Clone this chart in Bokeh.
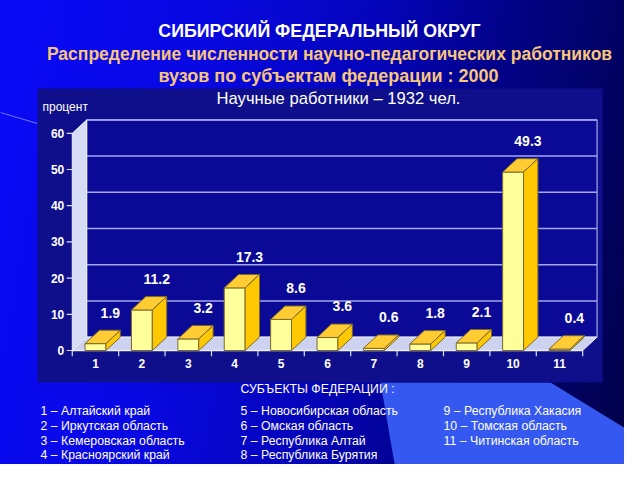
import numpy as np
from bokeh.plotting import figure
from bokeh.models import Range1d
from bokeh.embed import file_html
from bokeh.resources import INLINE
from bokeh.core.properties import value

# ---------------- data ----------------
categories = ["1", "2", "3", "4", "5", "6", "7", "8", "9", "10", "11"]
shares = [1.9, 11.2, 3.2, 17.3, 8.6, 3.6, 0.6, 1.8, 2.1, 49.3, 0.4]
share_labels = ["1.9", "11.2", "3.2", "17.3", "8.6", "3.6", "0.6", "1.8", "2.1", "49.3", "0.4"]
y_ticks = [0, 10, 20, 30, 40, 50, 60]
y_tick_labels = ["0", "10", "20", "30", "40", "50", "60"]
subjects = [
    "1 – Алтайский край",
    "2 – Иркутская область",
    "3 – Кемеровская область",
    "4 – Красноярский край",
    "5 – Новосибирская область",
    "6 – Омская область",
    "7 – Республика Алтай",
    "8 – Республика Бурятия",
    "9 – Республика Хакасия",
    "10 – Томская область",
    "11 – Читинская область",
]
title_main = "СИБИРСКИЙ ФЕДЕРАЛЬНЫЙ ОКРУГ"
subtitle_1 = "Распределение численности научно-педагогических работников"
subtitle_2 = "вузов по субъектам федерации : 2000"
chart_title = "Научные работники – 1932 чел."
y_label = "процент"
legend_title = "СУБЪЕКТЫ ФЕДЕРАЦИИ :"

FONT = value("Liberation Sans")
W, H = 624, 464

p = figure(width=W, height=H, output_backend="svg", toolbar_location=None,
           x_range=Range1d(-1.047, 12.401), y_range=Range1d(-31.49, 96.69),
           x_axis_location=None, y_axis_location=None, min_border=0,
           tools="")
p.title.visible = False
p.grid.visible = False
p.outline_line_color = None
p.background_fill_color = None
p.border_fill_color = None
p.styles = {"background": "linear-gradient(100deg, #0a0af8 0%, #0808e2 30%, #0404b8 55%, #020282 75%, #00004a 100%)"}

# slide-space ranges (slide pixels) for decoration and texts
p.extra_x_ranges = {"px": Range1d(0, W)}
p.extra_y_ranges = {"px": Range1d(H, 0)}
PX = dict(x_range_name="px", y_range_name="px")

# slide decoration
p.patch(x=[380, 550, 640, 640, 397], y=[382, 382, 437, 480, 480],
        fill_color="#3558f0", line_color=None, **PX)
p.segment(x0=[0], y0=[112], x1=[37], y1=[123], line_color="#6a7cff", line_width=1, **PX)

# chart panel
p.quad(left=[37], right=[602], top=[88], bottom=[382], fill_color="#0f0f8c", line_color=None, **PX)

# ---------------- 3D chart ----------------
n = len(categories)
cx = np.arange(1, n + 1, dtype=float)
lo, hi = 0.5, n + 0.5
DX, DY = 0.31, 3.7
ymax = y_ticks[-1]

# back wall
p.quad(left=[lo + DX], right=[hi + DX], bottom=[DY], top=[ymax + DY],
       fill_color="#0a0a96", line_color="#a6a6ee", line_width=1.2)
gt = np.array(y_ticks[1:], dtype=float)
p.segment(x0=np.full(len(gt), lo + DX), y0=gt + DY, x1=np.full(len(gt), hi + DX), y1=gt + DY,
          line_color="#a6a6ee", line_width=1.5)
# left wall
p.patch(x=[lo, lo + DX, lo + DX, lo], y=[0, DY, ymax + DY, ymax],
        fill_color="#d6dcf4", line_color="#eef0ff", line_width=1)
# floor
p.patch(x=[lo, hi, hi + DX, lo + DX], y=[0, 0, DY, DY],
        fill_color="#cdd2ee", line_color="#eef0ff", line_width=1)

# axis ticks
p.segment(x0=np.full(len(y_ticks), lo - 0.12), y0=y_ticks, x1=np.full(len(y_ticks), lo), y1=y_ticks,
          line_color="#d8dcf4", line_width=1.2)
bounds = np.arange(lo, hi + 0.01, 1.0)
p.segment(x0=bounds, y0=np.zeros(len(bounds)), x1=bounds, y1=np.full(len(bounds), -1.6),
          line_color="#d8dcf4", line_width=1.2)
p.segment(x0=[lo], y0=[0], x1=[hi], y1=[0], line_color="#eef0ff", line_width=1.5)

p.text(x=np.full(len(y_ticks), lo), y=y_ticks, text=y_tick_labels, x_offset=-8,
       text_align="right", text_baseline="middle", text_color="white",
       text_font=FONT, text_font_size="12px", text_font_style="bold")
p.text(x=cx, y=np.zeros(n), text=categories, y_offset=13,
       text_align="center", text_baseline="middle", text_color="white",
       text_font=FONT, text_font_size="12px", text_font_style="bold")

# bars
v = np.array(shares, dtype=float)
hw = 0.225
p.quad(left=cx - hw, right=cx + hw, bottom=np.zeros(n), top=v,
       fill_color="#ffff9c", line_color="#7a6a2a", line_width=1)
top_xs = [[c - hw, c + hw, c + hw + DX, c - hw + DX] for c in cx]
top_ys = [[h, h, h + DY, h + DY] for h in v]
p.patches(xs=top_xs, ys=top_ys, fill_color="#ffcc33", line_color="#7a6a2a", line_width=1)
side_xs = [[c + hw, c + hw + DX, c + hw + DX, c + hw] for c in cx]
side_ys = [[0, DY, h + DY, h] for h in v]
p.patches(xs=side_xs, ys=side_ys, fill_color="#ffc800", line_color="#7a6a2a", line_width=1)

p.text(x=cx + 0.32, y=v, text=share_labels, y_offset=-31,
       text_align="center", text_baseline="middle", text_color="white",
       text_font=FONT, text_font_size="14px", text_font_style="bold")

# ---------------- texts ----------------
p.text(x=[319], y=[30], text=[title_main], text_align="center", text_baseline="middle",
       text_color="white", text_font=FONT, text_font_size="17.8px", text_font_style="bold", **PX)
p.text(x=[329], y=[53], text=[subtitle_1], text_align="center",
       text_baseline="middle", text_color="#f7c57b", text_font=FONT, text_font_size="17.5px",
       text_font_style="bold", **PX)
p.text(x=[328], y=[75], text=[subtitle_2], text_align="center",
       text_baseline="middle", text_color="#f7c57b", text_font=FONT, text_font_size="18px",
       text_font_style="bold", **PX)
p.text(x=[338], y=[98], text=[chart_title], text_align="center", text_baseline="middle",
       text_color="white", text_font=FONT, text_font_size="16.6px", **PX)
p.text(x=[42], y=[106], text=[y_label], text_align="left", text_baseline="middle",
       text_color="white", text_font=FONT, text_font_size="12px", **PX)
p.text(x=[240], y=[388], text=[legend_title], text_align="left", text_baseline="middle",
       text_color="white", text_font=FONT, text_font_size="12.3px", **PX)

col_x = [40, 240, 443]
lx = [col_x[i // 4] for i in range(len(subjects))]
ly = [410.5 + 14.8 * (i % 4) for i in range(len(subjects))]
p.text(x=lx, y=ly, text=subjects, text_align="left", text_baseline="middle",
       text_color="white", text_font=FONT, text_font_size="12.3px", **PX)

open("out.html", "w").write(file_html(p, INLINE))
